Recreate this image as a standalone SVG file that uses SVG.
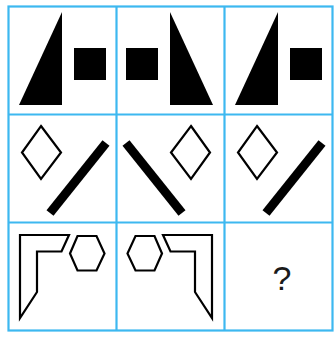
<svg xmlns="http://www.w3.org/2000/svg" width="334" height="338" viewBox="0 0 334 338">
<style>
.grid{fill:none;stroke:#3db8f0;stroke-width:2.2}
.solid{fill:#000;stroke:none}
.outline{fill:#fff;stroke:#000;stroke-width:2.2;stroke-linejoin:miter}
.bar{stroke:#000;stroke-width:9;stroke-linecap:butt}
.q{font-family:"Liberation Sans",Arial,sans-serif;font-size:34px;fill:#1a1a1a;text-anchor:middle}
</style>
<rect width="334" height="338" fill="#fff"/>
<g id="grid" class="grid">
<rect x="8.5" y="6.5" width="324" height="324"/>
<line x1="116.5" y1="6.5" x2="116.5" y2="330.5"/>
<line x1="224.5" y1="6.5" x2="224.5" y2="330.5"/>
<line x1="8.5" y1="114.5" x2="332.5" y2="114.5"/>
<line x1="8.5" y1="222.5" x2="332.5" y2="222.5"/>
</g>
<g id="r1c1">
<polygon class="solid" points="62,12 62,105 19,105"/>
<rect class="solid" x="74" y="48" width="32" height="32"/>
</g>
<g id="r1c2">
<polygon class="solid" points="170,12 170,105 213,105"/>
<rect class="solid" x="126" y="48" width="32" height="32"/>
</g>
<g id="r1c3">
<polygon class="solid" points="278,12 278,105 235,105"/>
<rect class="solid" x="290" y="48" width="32" height="32"/>
</g>
<g id="r2c1">
<polygon class="outline" points="41,126 61,152.5 41,179 22,152.5"/>
<line class="bar" x1="106" y1="143" x2="50" y2="213"/>
</g>
<g id="r2c2">
<polygon class="outline" points="191,126 210,152.5 191,179 171,152.5"/>
<line class="bar" x1="126" y1="143" x2="182" y2="213"/>
</g>
<g id="r2c3">
<polygon class="outline" points="257,126 277,152.5 257,179 238,152.5"/>
<line class="bar" x1="322" y1="143" x2="266" y2="213"/>
</g>
<g id="r3c1">
<polygon class="outline" points="20,235 69,235 61.5,251.5 37,251.5 37,292 20,318"/>
<polygon class="outline" points="70,253.5 77.5,236 96.5,236 104.5,253.5 96.5,270.5 77.5,270.5"/>
</g>
<g id="r3c2">
<polygon class="outline" points="212,235 163,235 170.5,251.5 195,251.5 195,292 212,318"/>
<polygon class="outline" points="162,253.5 154.5,236 135.5,236 127.5,253.5 135.5,270.5 154.5,270.5"/>
</g>
<g id="r3c3">
<text class="q" x="282" y="290">?</text>
</g>
</svg>
